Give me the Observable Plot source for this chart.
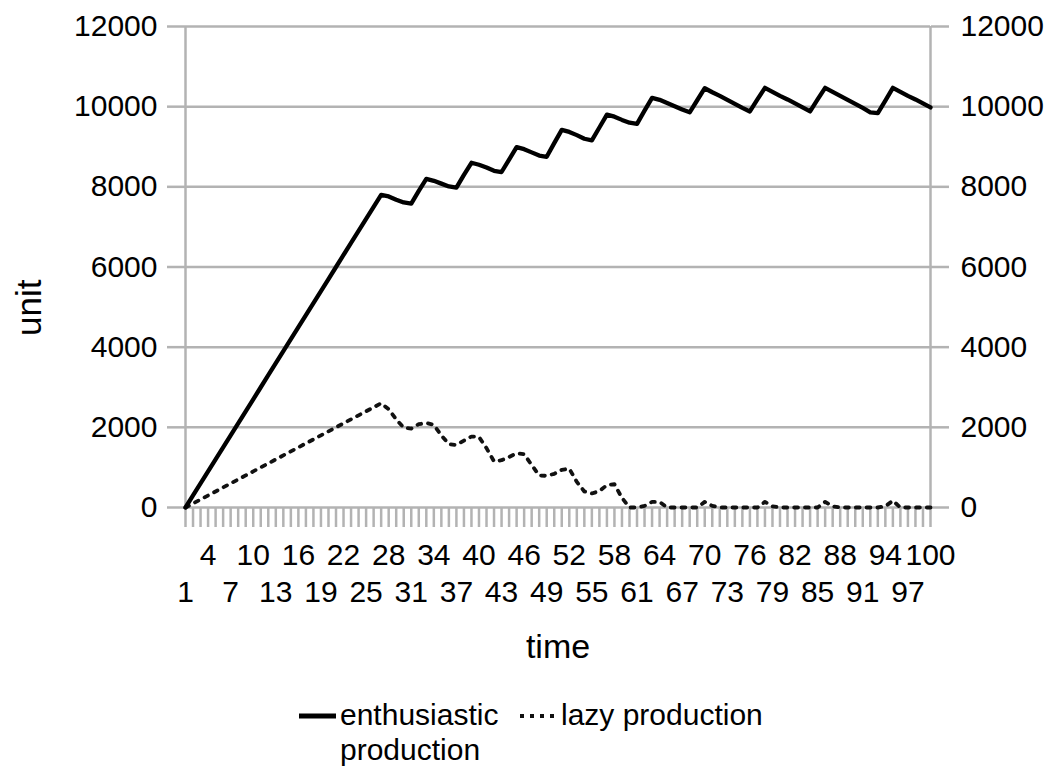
<!DOCTYPE html>
<html>
<head>
<meta charset="utf-8">
<script src="https://cdn.jsdelivr.net/npm/d3@7"></script>
<script src="https://cdn.jsdelivr.net/npm/@observablehq/plot@0.6"></script>
<style>
  html, body { margin: 0; padding: 0; background: #fff; }
  #wrap { position: relative; width: 1060px; height: 771px; overflow: hidden; font-family: 'Liberation Sans', Arial, sans-serif; }
  #chart { position: absolute; left: 0; top: 0; }
  .lg-text { position: absolute; font-size: 30px; line-height: 35px; color: #000; }
  .lg-swatch { position: absolute; }
</style>
</head>
<body>
<div id="wrap">
  <div id="chart"></div>
  <div id="legend"></div>
</div>
<script>
const times = [1,2,3,4,5,6,7,8,9,10,11,12,13,14,15,16,17,18,19,20,21,22,23,24,25,26,27,28,29,30,31,32,33,34,35,36,37,38,39,40,41,42,43,44,45,46,47,48,49,50,51,52,53,54,55,56,57,58,59,60,61,62,63,64,65,66,67,68,69,70,71,72,73,74,75,76,77,78,79,80,81,82,83,84,85,86,87,88,89,90,91,92,93,94,95,96,97,98,99,100];

const enthusiastic = [
  0,300,600,900,1200,1500,1800,2100,2400,2700,
  3000,3300,3600,3900,4200,4500,4800,5100,5400,5700,
  6000,6300,6600,6900,7200,7500,7800,7760,7680,7610,
  7580,7900,8200,8150,8080,8010,7980,8300,8600,8550,
  8480,8400,8370,8680,8990,8940,8860,8780,8750,9090,
  9420,9370,9290,9200,9160,9480,9800,9750,9670,9600,
  9570,9900,10220,10170,10090,10010,9930,9860,10160,10460,
  10360,10270,10170,10070,9970,9880,10180,10470,10370,10270,
  10180,10080,9980,9880,10180,10470,10370,10270,10170,10070,
  9970,9860,9840,10150,10470,10370,10270,10180,10080,9980
];

const lazy = [
  0,100,200,300,400,500,600,700,800,900,
  1000,1100,1200,1300,1400,1500,1600,1700,1800,1900,
  2000,2100,2200,2300,2400,2500,2600,2450,2200,1990,
  1970,2080,2110,2060,1800,1580,1560,1670,1770,1760,
  1480,1150,1180,1260,1350,1330,1060,800,790,840,
  940,970,640,400,350,410,560,580,240,0,
  0,40,140,140,0,0,0,0,0,140,
  40,0,0,0,0,0,0,140,30,0,
  0,0,0,0,0,140,30,0,0,0,
  0,0,0,30,170,0,0,0,0,0
];

const seriesNames = ["enthusiastic production", "lazy production"];
const tickRowUpper = [4,10,16,22,28,34,40,46,52,58,64,70,76,82,88,94,100];
const tickRowLower = [1,7,13,19,25,31,37,43,49,55,61,67,73,79,85,91,97];
const yTicks = [0,2000,4000,6000,8000,10000,12000];
const yTitle = "unit";
const xTitle = "time";

const grey = "#b3b3b3";
const plain = d => String(d);

const chart = Plot.plot({
  width: 1060,
  height: 690,
  marginLeft: 185,
  marginRight: 130,
  marginTop: 26,
  marginBottom: 183,
  x: {domain: [times[0], times[times.length - 1]]},
  y: {domain: [yTicks[0], yTicks[yTicks.length - 1]]},
  style: {fontFamily: "'Liberation Sans', Arial, sans-serif", fontSize: "30px", color: "#000", background: "#fff", overflow: "visible"},
  marks: [
    Plot.ruleY(yTicks, {y: d => d, stroke: grey, strokeWidth: 2.5}),
    Plot.axisX({ticks: times, tickSize: 20, tickFormat: () => "", stroke: grey, strokeWidth: 2.5, label: null}),
    Plot.axisX({ticks: tickRowUpper, tickSize: 0, tickPadding: 36, tickFormat: plain, label: null, fontSize: 30}),
    Plot.axisX({ticks: tickRowLower, tickSize: 0, tickPadding: 73, tickFormat: plain, label: null, fontSize: 30}),
    Plot.axisY({ticks: yTicks, anchor: "left", tickSize: 18, tickPadding: 10, tickFormat: plain, stroke: grey, strokeWidth: 2.5, label: null, fontSize: 30}),
    Plot.axisY({ticks: yTicks, anchor: "right", tickSize: 18, tickPadding: 12, tickFormat: plain, stroke: grey, strokeWidth: 2.5, label: null, fontSize: 30}),
    Plot.ruleX([times[0], times[times.length - 1]], {x: d => d, stroke: grey, strokeWidth: 2.5}),
    Plot.line(lazy, {x: (d, i) => times[i], y: d => d, stroke: "#111", strokeWidth: 3.8, strokeDasharray: "3.8,7"}),
    Plot.line(enthusiastic, {x: (d, i) => times[i], y: d => d, stroke: "#000", strokeWidth: 4.3, strokeLinejoin: "round"}),
    Plot.text([yTitle], {text: d => d, frameAnchor: "left", rotate: -90, dx: -156, dy: 69, fontSize: 35}),
    Plot.text([xTitle], {text: d => d, frameAnchor: "bottom", dy: 150, fontSize: 34})
  ]
});
document.getElementById("chart").appendChild(chart);

// Legend (below the plot)
const legend = document.getElementById("legend");
function addSwatch(left, dashed) {
  const ns = "http://www.w3.org/2000/svg";
  const s = document.createElementNS(ns, "svg");
  s.setAttribute("width", 38);
  s.setAttribute("height", 10);
  s.setAttribute("class", "lg-swatch");
  s.style.left = left + "px";
  s.style.top = "711px";
  const l = document.createElementNS(ns, "line");
  l.setAttribute("x1", 0); l.setAttribute("x2", 37);
  l.setAttribute("y1", 5); l.setAttribute("y2", 5);
  l.setAttribute("stroke", dashed ? "#111" : "#000");
  l.setAttribute("stroke-width", dashed ? 4 : 5);
  if (dashed) l.setAttribute("stroke-dasharray", "4,6");
  s.appendChild(l);
  legend.appendChild(s);
}
function addText(left, width, txt) {
  const d = document.createElement("div");
  d.className = "lg-text";
  d.style.left = left + "px";
  d.style.top = "697px";
  d.style.width = width + "px";
  d.textContent = txt;
  legend.appendChild(d);
}
addSwatch(299, false);
addText(340, 172, seriesNames[0]);
addSwatch(520, true);
addText(561, 260, seriesNames[1]);
</script>
</body>
</html>
